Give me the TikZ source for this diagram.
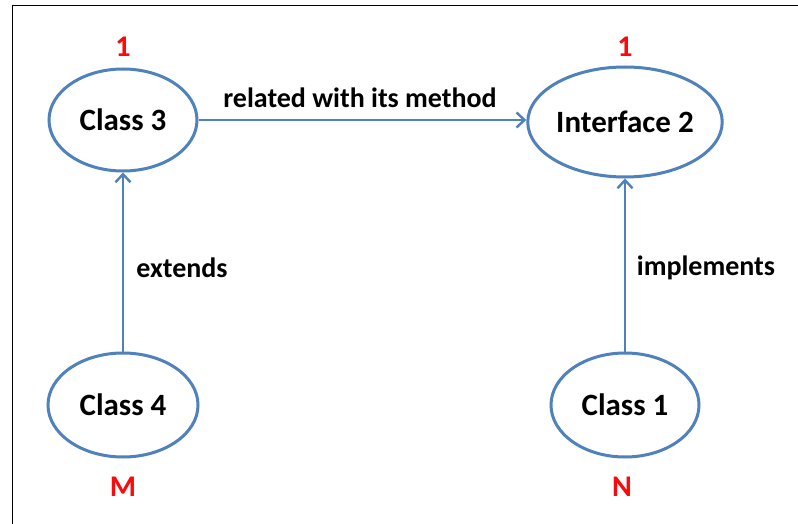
\documentclass[tikz,border=0pt]{standalone}
\usepackage{fontspec}
\setmainfont{Carlito}
\usetikzlibrary{shapes.geometric,arrows.meta}
\definecolor{linkblue}{RGB}{79,129,189}
\definecolor{mulred}{RGB}{250,10,10}
\begin{document}
\begin{tikzpicture}[x=1pt,y=-1pt,
  entity/.style={ellipse,draw=linkblue,line width=3pt,inner sep=0pt,
    font=\fontsize{31}{31}\selectfont\bfseries},
  link/.style={draw=linkblue,line width=2.6pt,
    -{Straight Barb[length=8pt,width=15pt,line width=2.4pt]}},
  edgetext/.style={font=\fontsize{28}{28}\selectfont\bfseries,inner sep=0pt},
  mult/.style={font=\fontsize{30}{30}\selectfont\bfseries,text=mulred,inner sep=0pt}]
  \useasboundingbox (0,0) rectangle (798,524);
  \fill[white] (0,0) rectangle (798,524);
  % frame
  \draw[black,line width=1.6pt] (12.5,530) -- (12.5,5.5) -- (805,5.5);

  % classes
  \node[entity,minimum width=148pt,minimum height=102pt] (c3) at (123,120) {\raisebox{-1pt}{Class 3}};
  \node[entity,minimum width=189pt,minimum height=110pt] (i2) at (625,122) {\raisebox{-6pt}{Interface 2}};
  \node[entity,minimum width=150pt,minimum height=104pt] (c4) at (123,405) {\raisebox{-5pt}{Class 4}};
  \node[entity,minimum width=148pt,minimum height=104pt] (c1) at (625,405) {\raisebox{-5pt}{Class 1}};

  % multiplicities
  \node[mult] (m3) at (123,47) {1};
  \node[mult] (mi) at (625,47) {1};
  \node[mult] (m4) at (123,487) {M};
  \node[mult] (m1) at (622,487) {N};

  % relations
  \draw[link] (c3.east) -- (c3.east -| i2.west);
  \draw[link] (c4.north) -- (c3.south);
  \draw[link] (c1.north) -- (i2.south);

  % relation labels
  \node[edgetext] (lr) at (360,98) {related with its method};
  \node[edgetext] (le) at (182,268) {extends};
  \node[edgetext] (li) at (706,268) {implements};
\end{tikzpicture}
\end{document}
